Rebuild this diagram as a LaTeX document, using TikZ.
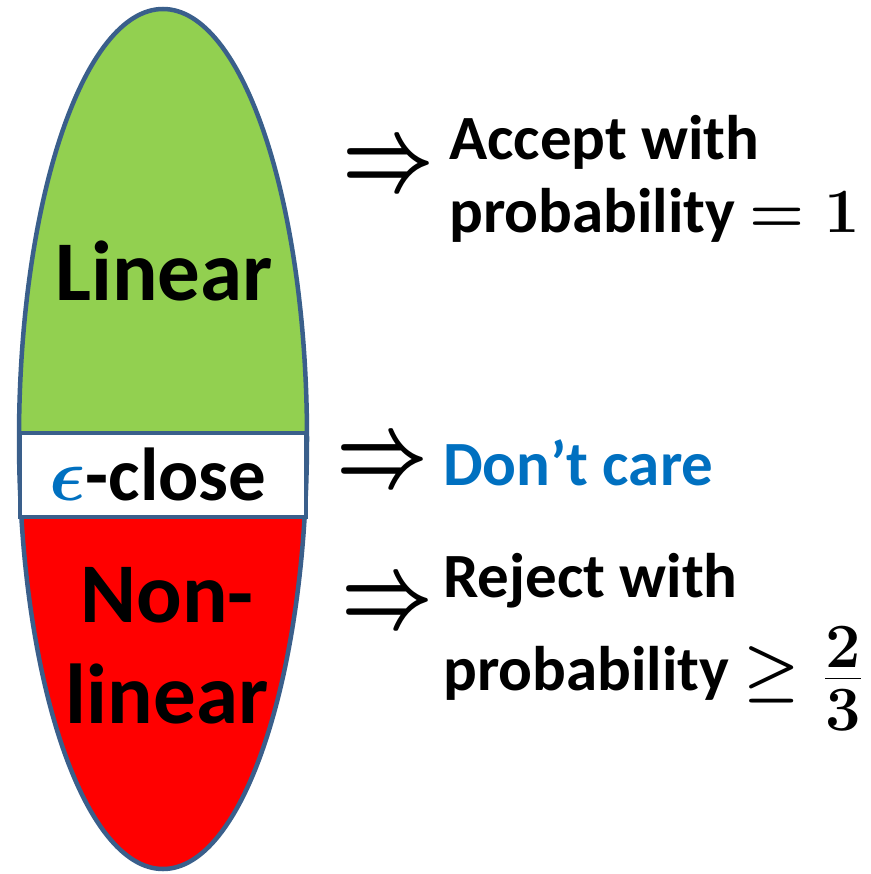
\RequirePackage{fix-cm}
\documentclass[tikz,border=0pt]{standalone}
\usepackage[no-math]{fontspec}
\setmainfont{Carlito}
\usepackage{amsmath}
\definecolor{outlinec}{HTML}{3A5F8B}
\definecolor{lgreen}{HTML}{92D050}
\definecolor{lred}{HTML}{FF0000}
\definecolor{epsblue}{HTML}{0070C0}
\tikzset{
  outl/.style={draw=outlinec, line width=4.5pt},
  bigtxt/.style={inner sep=0pt, font=\fontsize{85}{101}\selectfont\bfseries},
  midtxt/.style={inner sep=0pt, font=\fontsize{75}{80}\selectfont\bfseries},
  smalltxt/.style={inner sep=0pt, font=\fontsize{63}{73}\selectfont\bfseries},
  arrowtxt/.style={inner sep=0pt, font=\fontsize{80}{80}\selectfont\boldmath},
}
\begin{document}
\begin{tikzpicture}[x=1pt,y=-1pt]
\useasboundingbox (0,0) rectangle (870,874);
\begin{scope}
  \clip (163,439) ellipse [x radius=144, y radius=430];
  \fill[lgreen] (0,0) rectangle (330,433);
  \fill[lred] (0,517) rectangle (330,874);
\end{scope}
\draw[outl] (163,439) ellipse [x radius=144, y radius=430];
\draw[outl, fill=white] (20,433) rectangle (306,517);

\node[bigtxt, anchor=base] (lin) at (164,300) {Linear};
\node[midtxt, anchor=base] (eps) at (158,500) {{\color{epsblue}\boldmath$\epsilon$}-close};
\node[bigtxt, align=center, anchor=base] (nonlin) at (167,723) {Non-\\linear};

\node[arrowtxt] (ar1) at (388,169) {\scalebox{1}[1.3]{$\Rightarrow$}};
\node[arrowtxt] (ar2) at (382,465) {\scalebox{1}[1.3]{$\Rightarrow$}};
\node[arrowtxt] (ar3) at (387,606) {\scalebox{1}[1.3]{$\Rightarrow$}};

\node[smalltxt, align=left, anchor=base west] (acc) at (449,233) {Accept with\\probability {\boldmath$= 1$}};
\node[smalltxt, anchor=base west, text=epsblue] (dont) at (443,485) {Don’t care};
\node[smalltxt, align=left, anchor=base west] (rej) at (443,690) {Reject with\\[20pt]probability {\boldmath$\geq\mkern1mu \smash{\raisebox{-4pt}{$\frac{\textstyle 2\rule[-5pt]{0pt}{5pt}}{\textstyle 3\rule{0pt}{51pt}}$}}$}};
\end{tikzpicture}
\end{document}
